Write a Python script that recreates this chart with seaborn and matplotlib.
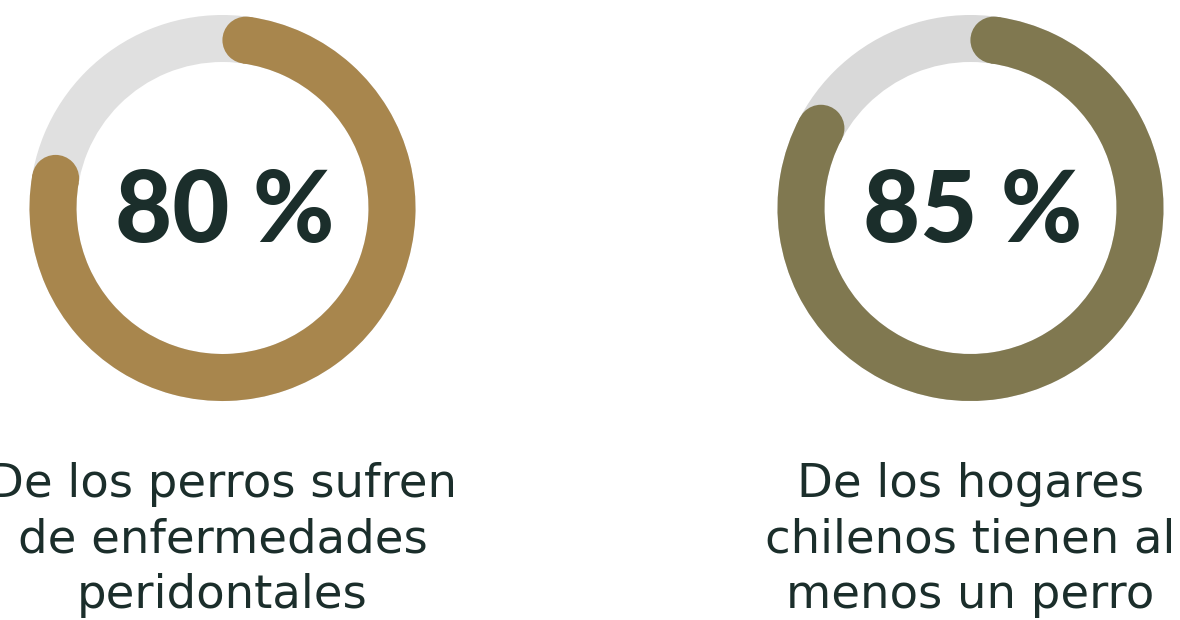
import numpy as np
import matplotlib
matplotlib.use("Agg")
import matplotlib.pyplot as plt
from matplotlib.patches import Wedge, Circle
import seaborn as sns

# ---- data ----
values = [80, 85]
value_labels = ["80 %", "85 %"]
captions = [
    "De los perros sufren\nde enfermedades\nperidontales",
    "De los hogares\nchilenos tienen al\nmenos un perro",
]
arc_colors = ["#A8864D", "#807850"]
track_colors = ["#E0E0E0", "#D9D9D9"]
text_color = "#1B2E2B"

sns.set_theme(style="white")
plt.rcParams["font.family"] = ["Lato", "DejaVu Sans"]

W, H = 1180, 620
fig = plt.figure(figsize=(W / 100, H / 100), dpi=100)
fig.patch.set_facecolor("white")
ax = fig.add_axes([0, 0, 1, 1])
ax.set_xlim(0, W)
ax.set_ylim(H, 0)
ax.axis("off")

centers_x = [222.5, 970.5]
cy = 208
r_out = 193
ring_w = 47
r_mid = r_out - ring_w / 2
cap = np.degrees((ring_w / 2) / r_mid)

for cx, v, lab, cap_txt, col, trk in zip(centers_x, values, value_labels, captions,
                                         arc_colors, track_colors):
    ax.add_patch(Wedge((cx, cy), r_out, 0, 360, width=ring_w, facecolor=trk,
                       edgecolor="none"))
    phi_end = 360 * v / 100
    a0, a1 = cap, phi_end - cap
    ax.add_patch(Wedge((cx, cy), r_out, a0 - 90, a1 - 90, width=ring_w,
                       facecolor=col, edgecolor="none"))
    for a in (a0, a1):
        t = np.radians(a)
        ax.add_patch(Circle((cx + r_mid * np.sin(t), cy - r_mid * np.cos(t)),
                            ring_w / 2, facecolor=col, edgecolor="none"))
    ax.text(cx + 2, 242, lab, ha="center", va="baseline", fontsize=71,
            fontweight=900, color=text_color)
    ax.text(cx, 608, cap_txt, ha="center", va="baseline", fontsize=33.5,
            linespacing=1.3, color=text_color, multialignment="center",
            family=["DejaVu Sans"])

fig.savefig("out.png", dpi=100, facecolor="white")
